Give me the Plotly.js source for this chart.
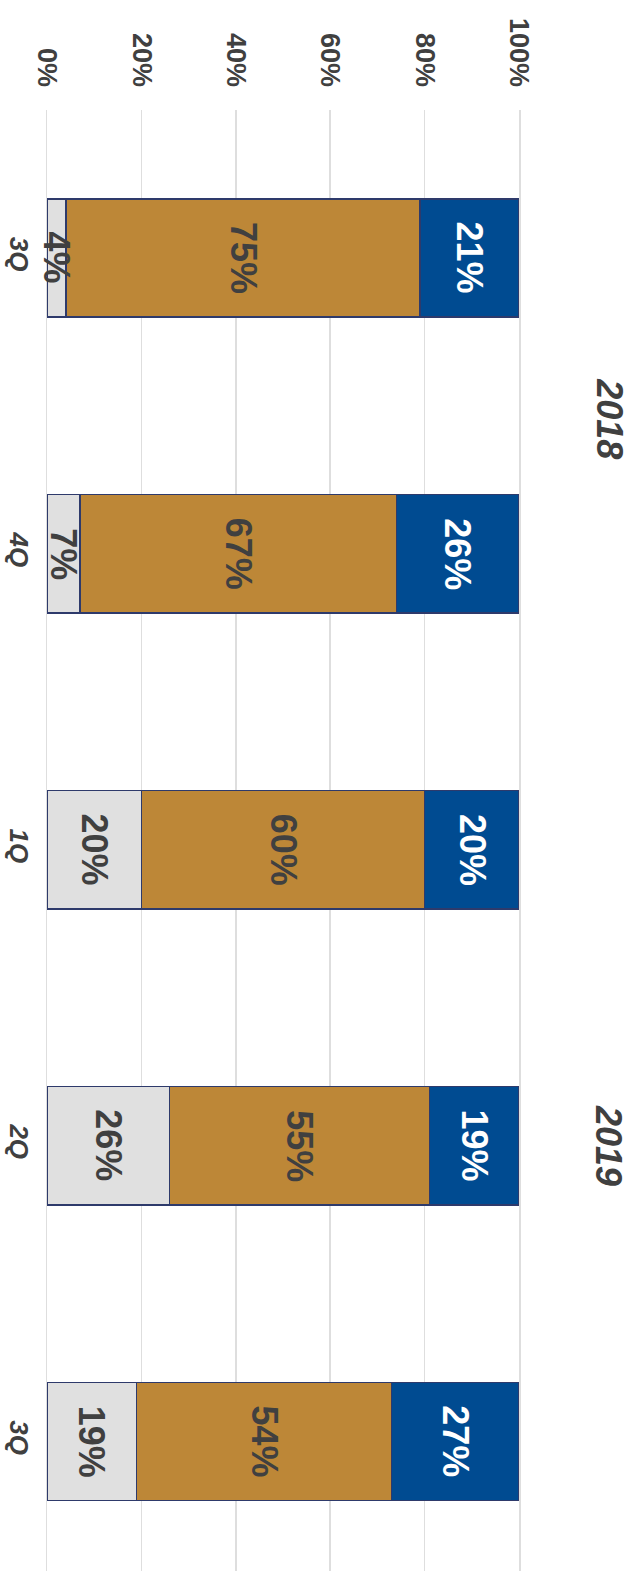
<!DOCTYPE html>
<html>
<head>
<meta charset="utf-8">
<script src="https://cdn.plot.ly/plotly-3.0.1.min.js"></script>
<style>
  html, body { margin: 0; padding: 0; background: #ffffff; }
  #chart { width: 636px; height: 1571px; }
</style>
</head>
<body>
<div id="chart"></div>
<script>
// ---- data ----
var quarters = ["3Q", "4Q", "1Q", "2Q", "3Q"];
var years = ["2018", "2019"];
var yearGroups = [[0, 1], [2, 3, 4]];       // indices of quarters belonging to each year
var lowShare = [4, 7, 20, 26, 19];          // light grey segment (%)
var midShare = [75, 67, 60, 55, 54];        // gold segment (%)
var topShare = [21, 26, 20, 19, 27];        // blue segment (%)
var xTicks = [0, 20, 40, 60, 80, 100];

// ---- styling ----
var FONT = "Liberation Sans, Arial, Helvetica, sans-serif";
var DARK = "#404040";
var OUTLINE = "#2e3a6b";
var GRID = "#dedede";
var idx = quarters.map(function (_, i) { return i; });

var series = [
  { vals: lowShare, color: "#e0e0e0", txt: DARK },
  { vals: midShare, color: "#bd8737", txt: DARK },
  { vals: topShare, color: "#004b91", txt: "#ffffff" }
];

var data = series.map(function (s) {
  return {
    type: "bar",
    orientation: "h",
    y: idx,
    x: s.vals,
    width: 0.4,
    marker: { color: s.color, line: { color: OUTLINE, width: 1.5 } },
    hoverinfo: "skip",
    showlegend: false
  };
});

// value labels, centred on each stacked segment (drawn above all bars)
var annotations = [];
var base = idx.map(function () { return 0; });
series.forEach(function (s) {
  s.vals.forEach(function (v, i) {
    annotations.push({
      text: v + "%",
      xref: "x", yref: "y",
      x: base[i] + v / 2, y: i,
      xanchor: "center", yanchor: "middle",
      showarrow: false,
      textangle: 90,
      font: { family: FONT, size: 36, weight: "bold", color: s.txt }
    });
    base[i] += v;
  });
});

years.forEach(function (yr, k) {
  var g = yearGroups[k];
  var c = (g[0] + g[g.length - 1]) / 2;
  annotations.push({
    text: yr,
    xref: "paper", yref: "y",
    x: 1.19, y: c,
    xanchor: "center", yanchor: "middle",
    showarrow: false,
    textangle: 90,
    yshift: k === 0 ? -13 : 0,
    font: { family: FONT, size: 36, weight: "bold", style: "italic", color: DARK }
  });
});

var layout = {
  width: 636,
  height: 1571,
  margin: { l: 47, r: 116.5, t: 110, b: 0, pad: 0 },
  paper_bgcolor: "#ffffff",
  plot_bgcolor: "#ffffff",
  barmode: "stack",
  xaxis: {
    side: "top",
    range: [0, 100],
    tickvals: xTicks,
    ticktext: xTicks.map(function (v) { return v + "%"; }),
    tickangle: 90,
    showgrid: true,
    gridcolor: GRID,
    gridwidth: 1.5,
    zeroline: false,
    showline: false,
    ticks: "",
    ticklabelstandoff: 18,
    tickfont: { family: FONT, size: 27, weight: "bold", color: DARK },
    fixedrange: true
  },
  yaxis: {
    range: [4.4375, -0.5],
    tickvals: idx,
    ticktext: quarters,
    tickangle: 90,
    showgrid: false,
    zeroline: false,
    showline: true,
    mirror: true,
    linecolor: GRID,
    linewidth: 1.5,
    ticks: "",
    ticklabelstandoff: 4,
    tickfont: { family: FONT, size: 26, weight: "bold", style: "italic", color: DARK },
    fixedrange: true
  },
  annotations: annotations
};

Plotly.newPlot("chart", data, layout, { displayModeBar: false, staticPlot: true });
</script>
</body>
</html>
